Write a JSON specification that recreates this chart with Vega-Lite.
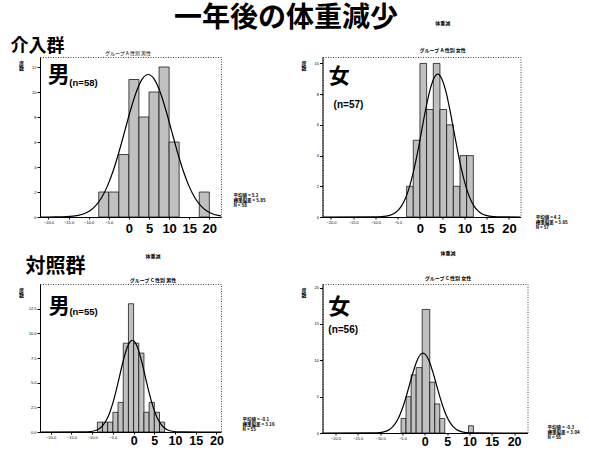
{
  "$schema": "https://vega.github.io/schema/vega-lite/v6.json",
  "background": "white",
  "padding": {"left": 10, "top": 5, "right": 0, "bottom": 0},
  "title": {"text": "一年後の体重減少", "font": "Noto Sans CJK JP", "fontSize": 28, "fontWeight": "bold", "anchor": "middle", "dx": -9, "offset": -13, "color": "#000"},
  "columns": 2,
  "spacing": {"row": 67, "column": 101.5},
  "bounds": "flush",
  "datasets": {
    "tl_bars": [
      {"start": -7.5, "end": -5, "count": 2},
      {"start": -5, "end": -2.5, "count": 2},
      {"start": -2.5, "end": 0, "count": 5},
      {"start": 0, "end": 2.5, "count": 11},
      {"start": 2.5, "end": 5, "count": 8},
      {"start": 5, "end": 7.5, "count": 10},
      {"start": 7.5, "end": 10, "count": 12},
      {"start": 10, "end": 12.5, "count": 6},
      {"start": 17.5, "end": 20, "count": 2}
    ],
    "tl_curve": [
      {"x": -22.1, "y": 0}, {"x": -18.4, "y": 0.004}, {"x": -15.5, "y": 0.025}, {"x": -12.6, "y": 0.127},
      {"x": -11.15, "y": 0.26}, {"x": -9.7, "y": 0.5}, {"x": -8.25, "y": 0.91}, {"x": -6.8, "y": 1.54},
      {"x": -5.35, "y": 2.47}, {"x": -3.9, "y": 3.7}, {"x": -2.45, "y": 5.22}, {"x": -1.0, "y": 6.91},
      {"x": 0.45, "y": 8.6}, {"x": 1.9, "y": 10.06}, {"x": 3.35, "y": 11.05}, {"x": 4.8, "y": 11.4},
      {"x": 6.25, "y": 11.05}, {"x": 7.7, "y": 10.06}, {"x": 9.15, "y": 8.6}, {"x": 10.6, "y": 6.91},
      {"x": 12.05, "y": 5.22}, {"x": 13.5, "y": 3.7}, {"x": 14.95, "y": 2.47}, {"x": 16.4, "y": 1.54},
      {"x": 17.85, "y": 0.91}, {"x": 19.3, "y": 0.5}, {"x": 20.75, "y": 0.26}, {"x": 22.2, "y": 0.127},
      {"x": 22.9, "y": 0.09}
    ],
    "tr_bars": [
      {"start": -3, "end": -1.5, "count": 2},
      {"start": -1.5, "end": 0, "count": 5},
      {"start": 0, "end": 1.5, "count": 10},
      {"start": 1.5, "end": 3, "count": 7},
      {"start": 3, "end": 4.5, "count": 10},
      {"start": 4.5, "end": 6, "count": 7},
      {"start": 6, "end": 7.5, "count": 6},
      {"start": 7.5, "end": 9, "count": 2},
      {"start": 9, "end": 10.5, "count": 4},
      {"start": 10.5, "end": 12, "count": 4}
    ],
    "tr_curve": [
      {"x": -21.9, "y": 0}, {"x": -10.4, "y": 0.003}, {"x": -8.6, "y": 0.02}, {"x": -6.8, "y": 0.103},
      {"x": -5.9, "y": 0.21}, {"x": -5.0, "y": 0.41}, {"x": -4.1, "y": 0.74}, {"x": -3.2, "y": 1.26},
      {"x": -2.3, "y": 2.01}, {"x": -1.4, "y": 3.02}, {"x": -0.5, "y": 4.26}, {"x": 0.4, "y": 5.64},
      {"x": 1.3, "y": 7.02}, {"x": 2.2, "y": 8.21}, {"x": 3.1, "y": 9.01}, {"x": 4.0, "y": 9.3},
      {"x": 4.9, "y": 9.01}, {"x": 5.8, "y": 8.21}, {"x": 6.7, "y": 7.02}, {"x": 7.6, "y": 5.64},
      {"x": 8.5, "y": 4.26}, {"x": 9.4, "y": 3.02}, {"x": 10.3, "y": 2.01}, {"x": 11.2, "y": 1.26},
      {"x": 12.1, "y": 0.74}, {"x": 13.0, "y": 0.41}, {"x": 13.9, "y": 0.21}, {"x": 14.8, "y": 0.103},
      {"x": 16.6, "y": 0.02}, {"x": 18.4, "y": 0.003}, {"x": 22.6, "y": 0}
    ],
    "bl_bars": [
      {"start": -8.75, "end": -7.5, "count": 1},
      {"start": -7.5, "end": -6.25, "count": 1},
      {"start": -6.25, "end": -5, "count": 1},
      {"start": -5, "end": -3.75, "count": 2},
      {"start": -3.75, "end": -2.5, "count": 3},
      {"start": -2.5, "end": -1.25, "count": 9},
      {"start": -1.25, "end": 0, "count": 13},
      {"start": 0, "end": 1.25, "count": 9},
      {"start": 1.25, "end": 2.5, "count": 8},
      {"start": 2.5, "end": 3.75, "count": 2},
      {"start": 3.75, "end": 5, "count": 3},
      {"start": 5, "end": 6.25, "count": 2},
      {"start": 6.25, "end": 7.5, "count": 1}
    ],
    "bl_curve": [
      {"x": -22.6, "y": 0}, {"x": -12.7, "y": 0.003}, {"x": -11.15, "y": 0.02}, {"x": -9.6, "y": 0.103},
      {"x": -8.825, "y": 0.21}, {"x": -8.05, "y": 0.41}, {"x": -7.275, "y": 0.74}, {"x": -6.5, "y": 1.26},
      {"x": -5.725, "y": 2.01}, {"x": -4.95, "y": 3.02}, {"x": -4.175, "y": 4.26}, {"x": -3.4, "y": 5.64},
      {"x": -2.625, "y": 7.02}, {"x": -1.85, "y": 8.21}, {"x": -1.075, "y": 9.01}, {"x": -0.3, "y": 9.3},
      {"x": 0.475, "y": 9.01}, {"x": 1.25, "y": 8.21}, {"x": 2.025, "y": 7.02}, {"x": 2.8, "y": 5.64},
      {"x": 3.575, "y": 4.26}, {"x": 4.35, "y": 3.02}, {"x": 5.125, "y": 2.01}, {"x": 5.9, "y": 1.26},
      {"x": 6.675, "y": 0.74}, {"x": 7.45, "y": 0.41}, {"x": 8.225, "y": 0.21}, {"x": 9.0, "y": 0.103},
      {"x": 10.55, "y": 0.02}, {"x": 12.1, "y": 0.003}, {"x": 21.1, "y": 0}
    ],
    "br_bars": [
      {"start": -5.3, "end": -4.2, "count": 2},
      {"start": -4.2, "end": -3.05, "count": 5},
      {"start": -3.05, "end": -1.93, "count": 8},
      {"start": -1.93, "end": -0.58, "count": 9},
      {"start": -0.58, "end": 1.12, "count": 17},
      {"start": 1.12, "end": 2.24, "count": 7},
      {"start": 2.24, "end": 3.36, "count": 4},
      {"start": 3.36, "end": 4.48, "count": 2},
      {"start": 9.8, "end": 10.9, "count": 1}
    ],
    "br_curve": [
      {"x": -22.9, "y": 0}, {"x": -12.4, "y": 0.004}, {"x": -10.9, "y": 0.024}, {"x": -9.4, "y": 0.122},
      {"x": -8.65, "y": 0.25}, {"x": -7.9, "y": 0.48}, {"x": -7.15, "y": 0.88}, {"x": -6.4, "y": 1.49},
      {"x": -5.65, "y": 2.38}, {"x": -4.9, "y": 3.57}, {"x": -4.15, "y": 5.04}, {"x": -3.4, "y": 6.67},
      {"x": -2.65, "y": 8.3}, {"x": -1.9, "y": 9.71}, {"x": -1.15, "y": 10.66}, {"x": -0.4, "y": 11.0},
      {"x": 0.35, "y": 10.66}, {"x": 1.1, "y": 9.71}, {"x": 1.85, "y": 8.3}, {"x": 2.6, "y": 6.67},
      {"x": 3.35, "y": 5.04}, {"x": 4.1, "y": 3.57}, {"x": 4.85, "y": 2.38}, {"x": 5.6, "y": 1.49},
      {"x": 6.35, "y": 0.88}, {"x": 7.1, "y": 0.48}, {"x": 7.85, "y": 0.25}, {"x": 8.6, "y": 0.122},
      {"x": 10.1, "y": 0.024}, {"x": 11.6, "y": 0.004}, {"x": 23.0, "y": 0}
    ]
  },
  "concat": [
    {
      "width": 181, "height": 160,
      "title": {"text": "介入群", "anchor": "start", "frame": "group", "dx": -29.5, "offset": -24, "fontSize": 18, "font": "Noto Sans CJK JP", "fontWeight": "bold", "color": "#000", "baseline": "bottom"},
      "resolve": {"axis": {"x": "independent", "y": "independent"}},
      "layer": [
        {"data": {"name": "tl_bars"}, "mark": {"type": "rect", "fill": "#c0c0c0", "stroke": "#000", "strokeWidth": 0.7},
         "encoding": {
           "x": {"field": "start", "type": "quantitative", "scale": {"domain": [-22.1, 22.9]},
                 "axis": {"values": [-20, -15, -10, -5, 0, 5, 10, 15, 20], "title": null, "tickSize": 2, "labelExpr": "datum.value < 0 ? format(datum.value, '.1f') : datum.label", "labelFont": "Liberation Sans", "labelFontSize": {"condition": {"test": "datum.value < 0", "value": 4}, "value": 13}, "labelFontWeight": {"condition": {"test": "datum.value < 0", "value": "normal"}, "value": "bold"}, "labelPadding": {"condition": {"test": "datum.value < 0", "value": 1}, "value": 3}, "labelOverlap": false, "labelFlush": false, "labelBound": false}},
           "x2": {"field": "end"},
           "y": {"field": "count", "type": "quantitative", "scale": {"domain": [0, 12.8]},
                 "axis": {"values": [0, 2, 4, 6, 8, 10, 12], "format": ".0f", "title": ["度", "数"], "titleAngle": 0, "titleFont": "Noto Sans CJK JP", "titleFontSize": 5, "titleFontWeight": "bold", "titleAlign": "center", "titleBaseline": "top", "titleX": -19, "titleY": 3, "titleLineHeight": 5.5, "labelFont": "Liberation Sans", "labelFontSize": 4, "tickSize": 3, "labelPadding": 1}},
           "y2": {"datum": 0}
         }},
        {"data": {"name": "tl_curve"}, "mark": {"type": "line", "interpolate": "monotone", "stroke": "#000", "strokeWidth": 1.2},
         "encoding": {
           "x": {"field": "x", "type": "quantitative", "scale": {"domain": [-22.1, 22.9]},
                 "axis": {"orient": "top", "title": ["グループ A 性別 男性"], "titleFont": "Noto Sans CJK JP", "titleFontSize": 5, "titleFontWeight": "normal", "titleX": 87.5, "titleY": -2, "titleBaseline": "bottom", "titleAlign": "center", "titleAngle": 0, "labels": false, "ticks": false, "domain": false, "grid": false}},
           "y": {"field": "y", "type": "quantitative", "scale": {"domain": [0, 12.8]}, "axis": null}
         }},
        {"data": {"values": [{}]}, "mark": {"type": "text", "font": "Noto Sans CJK JP", "fontSize": 22, "fontWeight": "bold", "align": "left", "baseline": "middle", "color": "#000"},
         "encoding": {"x": {"datum": -20.2, "scale": {"domain": [-22.1, 22.9]}, "axis": null}, "y": {"datum": 11.36, "scale": {"domain": [0, 12.8]}, "axis": null}, "text": {"value": "男"}}},
        {"data": {"values": [{}]}, "mark": {"type": "text", "font": "Liberation Sans", "fontSize": 9.5, "fontWeight": "bold", "align": "left", "baseline": "middle", "color": "#000"},
         "encoding": {"x": {"datum": -14.8, "scale": {"domain": [-22.1, 22.9]}, "axis": null}, "y": {"datum": 10.72, "scale": {"domain": [0, 12.8]}, "axis": null}, "text": {"value": "(n=58)"}}},
        {"data": {"values": [{}]}, "mark": {"type": "text", "font": "Noto Sans CJK JP", "fontSize": 4.5, "fontWeight": "bold", "align": "left", "baseline": "top", "lineHeight": 5, "color": "#000"},
         "encoding": {"x": {"datum": 26, "scale": {"domain": [-22.1, 22.9]}, "axis": null}, "y": {"datum": 1.9, "scale": {"domain": [0, 12.8]}, "axis": null}, "text": {"value": ["平均値 = 5.2", "標準偏差 = 5.85", "N = 58"]}}}
      ]
    },
    {
      "width": 198, "height": 160,
      "resolve": {"axis": {"x": "independent", "y": "independent"}},
      "layer": [
        {"data": {"name": "tr_bars"}, "mark": {"type": "rect", "fill": "#c0c0c0", "stroke": "#000", "strokeWidth": 0.7},
         "encoding": {
           "x": {"field": "start", "type": "quantitative", "scale": {"domain": [-21.9, 22.6]},
                 "axis": {"values": [-20, -15, -10, -5, 0, 5, 10, 15, 20], "title": null, "tickSize": 2, "labelExpr": "datum.value < 0 ? format(datum.value, '.1f') : datum.label", "labelFont": "Liberation Sans", "labelFontSize": {"condition": {"test": "datum.value < 0", "value": 4}, "value": 13}, "labelFontWeight": {"condition": {"test": "datum.value < 0", "value": "normal"}, "value": "bold"}, "labelPadding": {"condition": {"test": "datum.value < 0", "value": 1}, "value": 3}, "labelOverlap": false, "labelFlush": false, "labelBound": false}},
           "x2": {"field": "end"},
           "y": {"field": "count", "type": "quantitative", "scale": {"domain": [0, 10.42]},
                 "axis": {"values": [0, 2, 4, 6, 8, 10], "format": ".0f", "title": ["度", "数"], "titleAngle": 0, "titleFont": "Noto Sans CJK JP", "titleFontSize": 5, "titleFontWeight": "bold", "titleAlign": "center", "titleBaseline": "top", "titleX": -19, "titleY": 3, "titleLineHeight": 5.5, "labelFont": "Liberation Sans", "labelFontSize": 4, "tickSize": 3, "labelPadding": 1}},
           "y2": {"datum": 0}
         }},
        {"data": {"name": "tr_curve"}, "mark": {"type": "line", "interpolate": "monotone", "stroke": "#000", "strokeWidth": 1.2},
         "encoding": {
           "x": {"field": "x", "type": "quantitative", "scale": {"domain": [-21.9, 22.6]},
                 "axis": {"orient": "top", "title": ["体重減", "グループ A 性別 女性"], "titleFont": "Noto Sans CJK JP", "titleFontSize": 5, "titleFontWeight": "bold", "titleX": 119.7, "titleY": -31.5, "titleBaseline": "bottom", "titleAlign": "center", "titleAngle": 0, "titleLineHeight": 27, "labels": false, "ticks": false, "domain": false, "grid": false}},
           "y": {"field": "y", "type": "quantitative", "scale": {"domain": [0, 10.42]}, "axis": null}
         }},
        {"data": {"values": [{}]}, "mark": {"type": "text", "font": "Noto Sans CJK JP", "fontSize": 21, "fontWeight": "bold", "align": "left", "baseline": "middle", "color": "#000"},
         "encoding": {"x": {"datum": -20.5, "scale": {"domain": [-21.9, 22.6]}, "axis": null}, "y": {"datum": 9.12, "scale": {"domain": [0, 10.42]}, "axis": null}, "text": {"value": "女"}}},
        {"data": {"values": [{}]}, "mark": {"type": "text", "font": "Liberation Sans", "fontSize": 10, "fontWeight": "bold", "align": "left", "baseline": "middle", "color": "#000"},
         "encoding": {"x": {"datum": -19.4, "scale": {"domain": [-21.9, 22.6]}, "axis": null}, "y": {"datum": 7.3, "scale": {"domain": [0, 10.42]}, "axis": null}, "text": {"value": "(n=57)"}}},
        {"data": {"values": [{}]}, "mark": {"type": "text", "font": "Noto Sans CJK JP", "fontSize": 4.5, "fontWeight": "bold", "align": "left", "baseline": "top", "lineHeight": 5, "color": "#000"},
         "encoding": {"x": {"datum": 26, "scale": {"domain": [-21.9, 22.6]}, "axis": null}, "y": {"datum": 0.15, "scale": {"domain": [0, 10.42]}, "axis": null}, "text": {"value": ["平均値 = 4.2", "標準偏差 = 3.65", "N = 57"]}}}
      ]
    },
    {
      "width": 181, "height": 148,
      "title": {"text": "対照群", "anchor": "start", "frame": "group", "dx": -14.5, "offset": -43, "fontSize": 20, "font": "Noto Sans CJK JP", "fontWeight": "bold", "color": "#000", "baseline": "bottom"},
      "resolve": {"axis": {"x": "independent", "y": "independent"}},
      "layer": [
        {"data": {"name": "bl_bars"}, "mark": {"type": "rect", "fill": "#c0c0c0", "stroke": "#000", "strokeWidth": 0.7},
         "encoding": {
           "x": {"field": "start", "type": "quantitative", "scale": {"domain": [-22.6, 21.1]},
                 "axis": {"values": [-20, -15, -10, -5, 0, 5, 10, 15, 20], "title": null, "tickSize": 2, "labelExpr": "datum.value < 0 ? format(datum.value, '.1f') : datum.label", "labelFont": "Liberation Sans", "labelFontSize": {"condition": {"test": "datum.value < 0", "value": 4}, "value": 12.5}, "labelFontWeight": {"condition": {"test": "datum.value < 0", "value": "normal"}, "value": "bold"}, "labelPadding": {"condition": {"test": "datum.value < 0", "value": 1}, "value": 0}, "labelOverlap": false, "labelFlush": false, "labelBound": false}},
           "x2": {"field": "end"},
           "y": {"field": "count", "type": "quantitative", "scale": {"domain": [0, 15]},
                 "axis": {"values": [0, 2.5, 5, 7.5, 10, 12.5], "format": ".1f", "title": ["度", "数"], "titleAngle": 0, "titleFont": "Noto Sans CJK JP", "titleFontSize": 5, "titleFontWeight": "bold", "titleAlign": "center", "titleBaseline": "top", "titleX": -19, "titleY": 3, "titleLineHeight": 5.5, "labelFont": "Liberation Sans", "labelFontSize": 4, "tickSize": 3, "labelPadding": 1}},
           "y2": {"datum": 0}
         }},
        {"data": {"name": "bl_curve"}, "mark": {"type": "line", "interpolate": "monotone", "stroke": "#000", "strokeWidth": 1.2},
         "encoding": {
           "x": {"field": "x", "type": "quantitative", "scale": {"domain": [-22.6, 21.1]},
                 "axis": {"orient": "top", "title": ["体重減", "グループ C 性別 男性"], "titleFont": "Noto Sans CJK JP", "titleFontSize": 5, "titleFontWeight": "bold", "titleX": 112.5, "titleY": -25.5, "titleBaseline": "bottom", "titleAlign": "center", "titleAngle": 0, "titleLineHeight": 24, "labels": false, "ticks": false, "domain": false, "grid": false}},
           "y": {"field": "y", "type": "quantitative", "scale": {"domain": [0, 15]}, "axis": null}
         }},
        {"data": {"values": [{}]}, "mark": {"type": "text", "font": "Noto Sans CJK JP", "fontSize": 21, "fontWeight": "bold", "align": "left", "baseline": "middle", "color": "#000"},
         "encoding": {"x": {"datum": -20.5, "scale": {"domain": [-22.6, 21.1]}, "axis": null}, "y": {"datum": 12.65, "scale": {"domain": [0, 15]}, "axis": null}, "text": {"value": "男"}}},
        {"data": {"values": [{}]}, "mark": {"type": "text", "font": "Liberation Sans", "fontSize": 9.5, "fontWeight": "bold", "align": "left", "baseline": "middle", "color": "#000"},
         "encoding": {"x": {"datum": -15.5, "scale": {"domain": [-22.6, 21.1]}, "axis": null}, "y": {"datum": 12.2, "scale": {"domain": [0, 15]}, "axis": null}, "text": {"value": "(n=55)"}}},
        {"data": {"values": [{}]}, "mark": {"type": "text", "font": "Noto Sans CJK JP", "fontSize": 4.5, "fontWeight": "bold", "align": "left", "baseline": "top", "lineHeight": 5, "color": "#000"},
         "encoding": {"x": {"datum": 26.3, "scale": {"domain": [-22.6, 21.1]}, "axis": null}, "y": {"datum": 1.5, "scale": {"domain": [0, 15]}, "axis": null}, "text": {"value": ["平均値 = -0.1", "標準偏差 = 3.16", "N = 55"]}}}
      ]
    },
    {
      "width": 205, "height": 149,
      "resolve": {"axis": {"x": "independent", "y": "independent"}},
      "layer": [
        {"data": {"name": "br_bars"}, "mark": {"type": "rect", "fill": "#c0c0c0", "stroke": "#000", "strokeWidth": 0.7},
         "encoding": {
           "x": {"field": "start", "type": "quantitative", "scale": {"domain": [-22.9, 23.0]},
                 "axis": {"values": [-20, -15, -10, -5, 0, 5, 10, 15, 20], "title": null, "tickSize": 2, "labelExpr": "datum.value < 0 ? format(datum.value, '.1f') : datum.label", "labelFont": "Liberation Sans", "labelFontSize": {"condition": {"test": "datum.value < 0", "value": 4}, "value": 12.5}, "labelFontWeight": {"condition": {"test": "datum.value < 0", "value": "normal"}, "value": "bold"}, "labelPadding": {"condition": {"test": "datum.value < 0", "value": 1}, "value": 0}, "labelOverlap": false, "labelFlush": false, "labelBound": false}},
           "x2": {"field": "end"},
           "y": {"field": "count", "type": "quantitative", "scale": {"domain": [0, 20.5]},
                 "axis": {"values": [0, 5, 10, 15, 20], "format": ".0f", "title": ["度", "数"], "titleAngle": 0, "titleFont": "Noto Sans CJK JP", "titleFontSize": 5, "titleFontWeight": "bold", "titleAlign": "center", "titleBaseline": "top", "titleX": -19, "titleY": 3, "titleLineHeight": 5.5, "labelFont": "Liberation Sans", "labelFontSize": 4, "tickSize": 3, "labelPadding": 1}},
           "y2": {"datum": 0}
         }},
        {"data": {"name": "br_curve"}, "mark": {"type": "line", "interpolate": "monotone", "stroke": "#000", "strokeWidth": 1.2},
         "encoding": {
           "x": {"field": "x", "type": "quantitative", "scale": {"domain": [-22.9, 23.0]},
                 "axis": {"orient": "top", "title": ["体重減", "グループ C 性別 女性"], "titleFont": "Noto Sans CJK JP", "titleFontSize": 5, "titleFontWeight": "bold", "titleX": 125, "titleY": -28.5, "titleBaseline": "bottom", "titleAlign": "center", "titleAngle": 0, "titleLineHeight": 25, "labels": false, "ticks": false, "domain": false, "grid": false}},
           "y": {"field": "y", "type": "quantitative", "scale": {"domain": [0, 20.5]}, "axis": null}
         }},
        {"data": {"values": [{}]}, "mark": {"type": "text", "font": "Noto Sans CJK JP", "fontSize": 22, "fontWeight": "bold", "align": "left", "baseline": "middle", "color": "#000"},
         "encoding": {"x": {"datum": -21.6, "scale": {"domain": [-22.9, 23.0]}, "axis": null}, "y": {"datum": 17.3, "scale": {"domain": [0, 20.5]}, "axis": null}, "text": {"value": "女"}}},
        {"data": {"values": [{}]}, "mark": {"type": "text", "font": "Liberation Sans", "fontSize": 10, "fontWeight": "bold", "align": "left", "baseline": "middle", "color": "#000"},
         "encoding": {"x": {"datum": -21.6, "scale": {"domain": [-22.9, 23.0]}, "axis": null}, "y": {"datum": 14.2, "scale": {"domain": [0, 20.5]}, "axis": null}, "text": {"value": "(n=56)"}}},
        {"data": {"values": [{}]}, "mark": {"type": "text", "font": "Noto Sans CJK JP", "fontSize": 4.5, "fontWeight": "bold", "align": "left", "baseline": "top", "lineHeight": 5, "color": "#000"},
         "encoding": {"x": {"datum": 27.5, "scale": {"domain": [-22.9, 23.0]}, "axis": null}, "y": {"datum": 1.1, "scale": {"domain": [0, 20.5]}, "axis": null}, "text": {"value": ["平均値 = -0.3", "標準偏差 = 3.04", "N = 56"]}}}
      ]
    }
  ],
  "config": {
    "view": {"stroke": "#444", "strokeDash": [1, 1.5], "strokeWidth": 1},
    "axis": {"grid": false, "domainColor": "#000", "tickColor": "#000", "labelColor": "#000", "titleColor": "#000", "domainWidth": 1}
  }
}
